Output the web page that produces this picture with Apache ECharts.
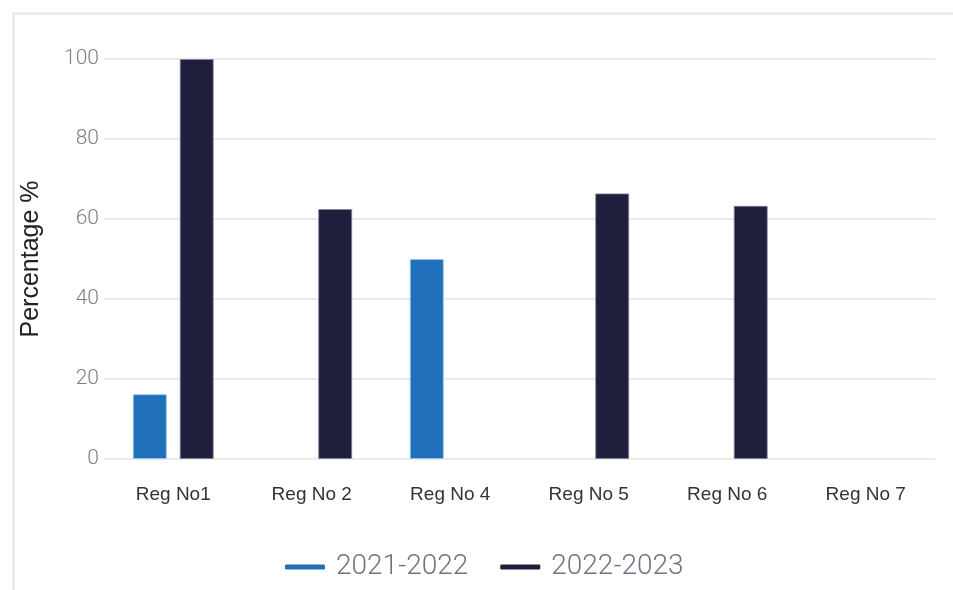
<!DOCTYPE html>
<html>
<head>
<meta charset="utf-8">
<script src="https://cdn.jsdelivr.net/npm/echarts@6/dist/echarts.min.js"></script>
<style>
  html, body { margin: 0; padding: 0; background: #ffffff; }
  #chart { width: 953px; height: 590px; }
</style>
</head>
<body>
<div id="chart"></div>
<script>
// Region categories and the share recorded for each reporting year
const categories = ['Reg No1', 'Reg No 2', 'Reg No 4', 'Reg No 5', 'Reg No 6', 'Reg No 7'];
const seriesNames = ['2021-2022', '2022-2023'];
const values2021 = [16.2, null, 50, null, null, null];
const values2022 = [100, 62.5, null, 66.4, 63.3, null];
const yTicks = [0, 20, 40, 60, 80, 100];

const colors = ['#1f70b8', '#1e1e3d'];
const borders = ['rgba(150,200,245,0.8)', 'rgba(130,130,160,0.8)'];

const chart = echarts.init(document.getElementById('chart'), null, { renderer: 'canvas' });

chart.setOption({
  animation: false,
  backgroundColor: '#ffffff',
  graphic: [{
    type: 'rect',
    left: 11, top: 11,
    shape: { width: 1200, height: 1200 },
    style: { fill: 'none', stroke: '#e4e4e4', lineWidth: 2 },
    silent: true,
    z: -10
  }],
  grid: { left: 104, right: 18, top: 59, bottom: 131, containLabel: false },
  legend: {
    bottom: 4,
    left: 280,
    itemWidth: 40,
    itemHeight: 5,
    itemGap: 32,
    icon: 'roundRect',
    itemStyle: { borderWidth: 0 },
    textStyle: { fontFamily: 'Roboto', fontWeight: 300, fontSize: 28, color: '#6e7580', padding: [0, 0, 0, 6] },
    data: seriesNames
  },
  xAxis: {
    type: 'category',
    data: categories,
    axisLine: { show: false },
    axisTick: { show: false },
    axisLabel: { fontFamily: 'Liberation Sans', fontSize: 19, color: '#333333', margin: 26 }
  },
  yAxis: {
    type: 'value',
    min: yTicks[0],
    max: yTicks[yTicks.length - 1],
    interval: yTicks[1] - yTicks[0],
    name: 'Percentage %',
    nameLocation: 'middle',
    nameGap: 60,
    nameTextStyle: { fontFamily: 'Liberation Sans', fontSize: 25, color: '#222222' },
    axisLine: { show: false },
    axisTick: { show: false },
    axisLabel: { fontFamily: 'Roboto', fontWeight: 300, fontSize: 21, color: '#7a808a', margin: 5 },
    splitLine: { lineStyle: { color: '#e4e4e4', width: 1.5 } }
  },
  series: [
    {
      name: seriesNames[0],
      type: 'bar',
      data: values2021,
      barWidth: 34,
      barGap: '38%',
      itemStyle: { color: colors[0], borderColor: borders[0], borderWidth: 1 }
    },
    {
      name: seriesNames[1],
      type: 'bar',
      data: values2022,
      barWidth: 34,
      barGap: '38%',
      itemStyle: { color: colors[1], borderColor: borders[1], borderWidth: 1 }
    }
  ]
});
</script>
</body>
</html>
